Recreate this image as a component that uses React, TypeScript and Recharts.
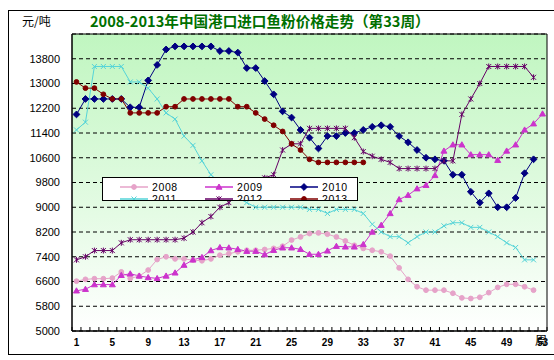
import { CartesianGrid, Line, LineChart, ReferenceArea, XAxis, YAxis } from "recharts";

const weeks = [
  1, 2, 3, 4, 5, 6, 7, 8, 9, 10, 11, 12, 13, 14, 15, 16, 17, 18, 19, 20, 21, 22, 23, 24, 25, 26, 27,
  28, 29, 30, 31, 32, 33, 34, 35, 36, 37, 38, 39, 40, 41, 42, 43, 44, 45, 46, 47, 48, 49, 50, 51, 52, 53,
];
const labelWeeks = [1, 5, 9, 13, 17, 21, 25, 29, 33, 37, 41, 45, 49, 53];
const yTicks = [5000, 5800, 6600, 7400, 8200, 9000, 9800, 10600, 11400, 12200, 13000, 13800];

const y2008 = [
  6610, 6670, 6690, 6690, 6710, 6910, 6700, 6775, 6970, 7310, 7400, 7330, 7330, 7290, 7270, 7330, 7450,
  7500, 7560, 7610, 7610, 7635, 7670, 7740, 7940, 8040, 8150, 8170, 8130, 8040, 7910, 7770, 7670, 7610,
  7560, 7420, 7040, 6670, 6430, 6320, 6320, 6320, 6220, 6070, 6050, 6090, 6240, 6410, 6510, 6510, 6430,
  6320,
];
const y2009 = [
  6300, 6350, 6500, 6500, 6500, 6800, 6850, 6780, 6730, 6700, 6780, 6880, 7130, 7300, 7380, 7600, 7700,
  7690, 7640, 7580, 7580, 7470, 7610, 7690, 7690, 7640, 7480, 7480, 7590, 7740, 7720, 7720, 7800, 8200,
  8420, 8800, 9250, 9390, 9600, 9710, 10030, 10820, 11020, 11020, 10700, 10700, 10700, 10520, 10820,
  11020, 11500, 11700, 12020,
];
const y2010 = [
  12000, 12500, 12500, 12500, 12500, 12500, 12230, 12230, 13100, 13600, 14100, 14200, 14200, 14200,
  14200, 14200, 14050, 14050, 14000, 13500, 13500, 13080, 12650, 12100, 11900, 11500, 11250, 10900,
  11300, 11300, 11400, 11400, 11500, 11600, 11650, 11600, 11300, 11100, 10850, 10600, 10550, 10500,
  10050, 10050, 9500, 9150, 9450, 9000, 9000, 9300, 10100, 10550,
];
const y2011 = [
  11500, 11750, 13550, 13550, 13550, 13550, 13050, 13050, 12850, 12500, 12050, 11850, 11300, 11000,
  10500, 10050, 9800, 9550, 9300, 9150, 9000, 9000, 9000, 9000, 9000, 9000, 8930, 8930, 8800, 8930,
  8930, 8930, 8800, 8450, 8200, 8050, 8050, 7850, 8050, 8200, 8200, 8400, 8500, 8500, 8350, 8350, 8200,
  8050, 7850, 7700, 7300, 7300,
];
const y2012 = [
  7300, 7400, 7600, 7600, 7600, 7850, 7950, 7950, 7950, 7950, 7950, 7950, 8000, 8200, 8500, 8700, 9000,
  9150, 9400, 9650, 9850, 9950, 10050, 10850, 11050, 11050, 11550, 11550, 11550, 11550, 11550, 11250,
  10800, 10650, 10550, 10450, 10250, 10250, 10250, 10250, 10250, 10500, 10500, 12000, 12500, 13000,
  13550, 13550, 13550, 13550, 13550, 13200,
];
const y2013 = [
  13050, 12850, 12850, 12650, 12500, 12500, 12050, 12050, 12050, 12050, 12250, 12250, 12500, 12500,
  12500, 12500, 12500, 12500, 12250, 12250, 12050, 11850, 11650, 11450, 11050, 10850, 10550, 10450,
  10450, 10450, 10450, 10450, 10450,
];

const data = weeks.map((w, i) => ({
  week: w,
  y2008: y2008[i] ?? null,
  y2009: y2009[i] ?? null,
  y2010: y2010[i] ?? null,
  y2011: y2011[i] ?? null,
  y2012: y2012[i] ?? null,
  y2013: y2013[i] ?? null,
}));

type Shape = "circle" | "triangle" | "diamond" | "cross" | "star";

const series: { key: string; name: string; color: string; shape: Shape }[] = [
  { key: "y2008", name: "2008", color: "#e6a3c9", shape: "circle" },
  { key: "y2009", name: "2009", color: "#cc33cc", shape: "triangle" },
  { key: "y2010", name: "2010", color: "#000080", shape: "diamond" },
  { key: "y2011", name: "2011", color: "#55d4d8", shape: "cross" },
  { key: "y2012", name: "2012", color: "#660066", shape: "star" },
  { key: "y2013", name: "2013", color: "#800000", shape: "circle" },
];

function Marker({ cx, cy, shape, color }: { cx: number; cy: number; shape: Shape; color: string }) {
  if (shape === "circle") return <circle cx={cx} cy={cy} r={2.4} fill={color} stroke={color} />;
  if (shape === "triangle")
    return <path d={`M${cx},${cy - 3}L${cx + 3},${cy + 2.2}L${cx - 3},${cy + 2.2}Z`} fill={color} stroke={color} />;
  if (shape === "diamond")
    return <path d={`M${cx},${cy - 3.4}L${cx + 3.4},${cy}L${cx},${cy + 3.4}L${cx - 3.4},${cy}Z`} fill={color} stroke={color} />;
  if (shape === "cross")
    return <path d={`M${cx - 2.5},${cy - 2.5}L${cx + 2.5},${cy + 2.5}M${cx - 2.5},${cy + 2.5}L${cx + 2.5},${cy - 2.5}`} stroke={color} strokeWidth={1} fill="none" />;
  return (
    <path
      d={`M${cx - 2.5},${cy - 2.5}L${cx + 2.5},${cy + 2.5}M${cx - 2.5},${cy + 2.5}L${cx + 2.5},${cy - 2.5}M${cx},${cy - 3}L${cx},${cy + 3}`}
      stroke={color}
      strokeWidth={1}
      fill="none"
    />
  );
}

const XTick = (props: any) => {
  const { x, y, payload } = props;
  const v = payload.value;
  if (v % 1 !== 0) return <line x1={x} x2={x} y1={y - 4} y2={y} stroke="#000" />;
  if (!labelWeeks.includes(v)) return <g />;
  return (
    <text x={x} y={y + 15} textAnchor="middle" fontSize={10} fontWeight="bold" fill="#000" fontFamily="'Liberation Sans', Arial">
      {v}
    </text>
  );
};

const xTickValues = [...weeks.map((w) => w - 0.5), 53.5, ...labelWeeks];

function LegendItem({ x, y, s }: { x: number; y: number; s: (typeof series)[number] }) {
  return (
    <g>
      <line x1={x} x2={x + 28} y1={y} y2={y} stroke={s.color} strokeWidth={1.5} />
      <Marker cx={x + 14} cy={y} shape={s.shape} color={s.color} />
      <text x={x + 32} y={y + 3.5} fontSize={10.5} fill="#000" fontFamily="'Liberation Sans', Arial" letterSpacing={0.6}>
        {s.name}
      </text>
    </g>
  );
}

export default function App() {
  return (
    <div style={{ position: "absolute", left: 0, top: 0, width: 554, height: 360, overflow: "hidden", background: "#fff" }}>
      <div style={{ position: "absolute", left: 8, top: 10, width: 570, height: 343, border: "1px solid #000" }} />
      <div style={{ position: "absolute", left: 22, top: 13, fontSize: 12, lineHeight: "16px", fontFamily: "'Noto Sans CJK SC', sans-serif", color: "#000" }}>
        元/吨
      </div>
      <div
        style={{
          position: "absolute",
          left: 90,
          top: 12,
          fontSize: 14.6,
          lineHeight: "18px",
          fontWeight: "bold",
          whiteSpace: "nowrap",
          fontFamily: "'Noto Sans CJK SC', sans-serif",
          color: "#007000",
        }}
      >
        2008-2013年中国港口进口鱼粉价格走势（第33周）
      </div>
      <div style={{ position: "absolute", left: 0, top: 0 }}>
        <LineChart width={554} height={360} data={data} margin={{ top: 34, right: 7, bottom: 9, left: 0 }}>
          <defs>
            <linearGradient id="plotBg" x1="0" y1="0" x2="0" y2="1">
              <stop offset="0%" stopColor="#c0f6c0" />
              <stop offset="60%" stopColor="#e4fbe4" />
              <stop offset="100%" stopColor="#ffffff" />
            </linearGradient>
          </defs>
          <CartesianGrid vertical={false} stroke="#000" strokeDasharray="4 3" fill="url(#plotBg)" fillOpacity={1} />
          <XAxis
            dataKey="week"
            type="number"
            domain={[0.5, 53.5]}
            ticks={xTickValues}
            interval={0}
            tick={<XTick />}
            tickLine={false}
            tickSize={0}
            tickMargin={0}
            height={20}
            axisLine={{ stroke: "#000" }}
          />
          <YAxis
            type="number"
            domain={[5000, 14600]}
            ticks={yTicks}
            interval={0}
            width={72}
            tickLine={false}
            tickSize={0}
            tickMargin={12}
            axisLine={{ stroke: "#000" }}
            tick={{ fontSize: 11, fill: "#000", fontFamily: "'Liberation Sans', Arial" }}
          />
          <ReferenceArea x1={0.5} x2={53.5} y1={5000} y2={14600} fill="none" stroke="#000" strokeWidth={1} />
          {series.map((s) => (
            <Line
              key={s.key}
              type="linear"
              dataKey={s.key}
              stroke={s.color}
              strokeWidth={1}
              isAnimationActive={false}
              activeDot={false}
              dot={(p: any) =>
                p.cy == null || p.value == null ? (
                  <g key={`${s.key}-${p.index}`} />
                ) : (
                  <Marker key={`${s.key}-${p.index}`} cx={p.cx} cy={p.cy} shape={s.shape} color={s.color} />
                )
              }
            />
          ))}
          <text x={541} y={345} textAnchor="middle" fontSize={12} fill="#000" fontFamily="'Noto Sans CJK SC', sans-serif">
            周
          </text>
        </LineChart>
      </div>
      <div
        style={{
          position: "absolute",
          left: 102,
          top: 177,
          width: 254,
          height: 22,
          border: "1px solid #000",
          background: "#fff",
          overflow: "hidden",
        }}
      >
        <svg width={254} height={30} style={{ display: "block" }}>
          {series.map((s, i) => (
            <LegendItem key={s.key} x={17 + (i % 3) * 85} y={9 + Math.floor(i / 3) * 12} s={s} />
          ))}
        </svg>
      </div>
    </div>
  );
}
